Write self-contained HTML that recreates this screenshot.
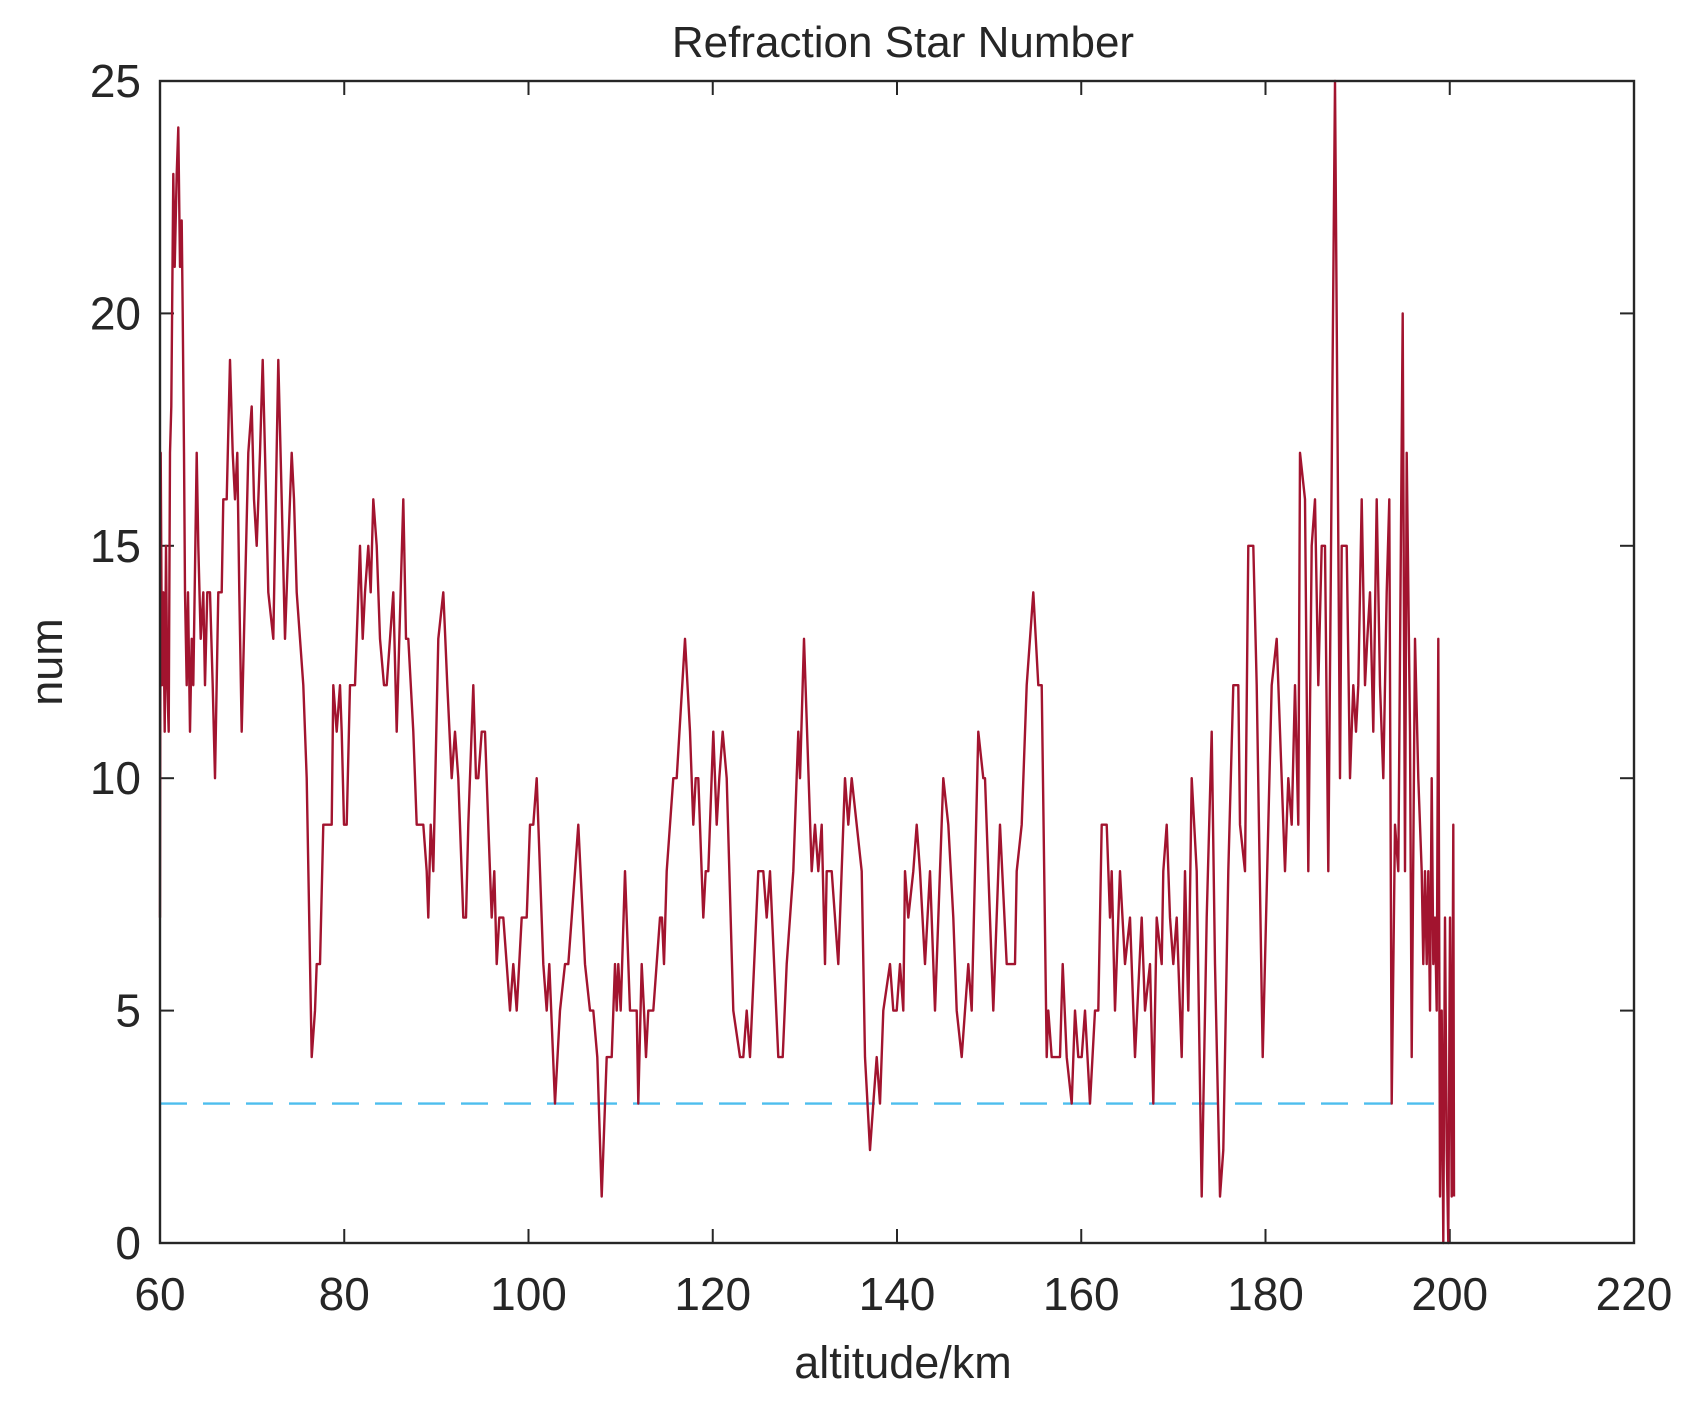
<!DOCTYPE html>
<html><head><meta charset="utf-8">
<style>
html,body{margin:0;padding:0;background:#fff;}
svg{display:block;}
text{font-family:"Liberation Sans",sans-serif;fill:#262626;}
</style></head>
<body>
<svg id="s" width="1698" height="1410" viewBox="0 0 1698 1410" xmlns="http://www.w3.org/2000/svg">
<rect width="1698" height="1410" fill="#fff"/>
<text x="903" y="57" font-size="44" text-anchor="middle">Refraction Star Number</text>
<g id="ticks" stroke="#262626" stroke-width="2"></g>
<g id="labels" font-size="46"></g>
<line x1="160" y1="1103.6" x2="1442" y2="1103.6" stroke="#4DBEEE" stroke-width="2.4" stroke-dasharray="27,16"/>
<path id="p" fill="none" stroke="#A2142F" stroke-width="2.4" stroke-linejoin="round"/>
<rect x="160" y="81" width="1474" height="1162" fill="none" stroke="#262626" stroke-width="2.4"/>
<text x="903" y="1378" font-size="45" text-anchor="middle">altitude/km</text>
<text transform="translate(62,662) rotate(-90)" font-size="45" text-anchor="middle">num</text>
</svg>
<script>
var X0=160,X1=1634,Y0=1243,Y1=81;
function yv(v){return Y0-v*(Y0-Y1)/25;}
var ns="http://www.w3.org/2000/svg";
var tg=document.getElementById('ticks'),lg=document.getElementById('labels');
function el(t,a,p,txt){var e=document.createElementNS(ns,t);for(var k in a)e.setAttribute(k,a[k]);if(txt!==undefined)e.textContent=txt;p.appendChild(e);}
for(var a=60;a<=220;a+=20){var x=X0+(a-60)*(X1-X0)/160;
 el('line',{x1:x,y1:Y0,x2:x,y2:Y0-14},tg);el('line',{x1:x,y1:Y1,x2:x,y2:Y1+14},tg);
 el('text',{x:x,y:1310,'text-anchor':'middle'},lg,a);}
for(var v=0;v<=25;v+=5){var y=yv(v);
 el('line',{x1:X0,y1:y,x2:X0+14,y2:y},tg);el('line',{x1:X1,y1:y,x2:X1-14,y2:y},tg);
 el('text',{x:141,y:y+16,'text-anchor':'end'},lg,v);}
var pts=[];
var s1=[[0,1125],[2,500],[6,810],[10,680],[14,870],[18,625],[22,810],[26,870],[30,500],[34,440],[40,125],[44,250],[50,125],[55,60],[60,250],[65,190],[68,310],[72,500],[75,690],[80,810],[84,690],[90,870],[95,750],[100,810],[110,500],[115,625],[122,750],[130,690],[135,810],[142,690],[150,690],[158,810],[165,935],[175,690],[185,690],[190,565],[200,565],[210,375],[218,500],[225,565],[232,500],[238,690],[245,870],[255,690],[265,500],[275,440],[282,565],[290,620],[300,500],[308,375],[315,500],[325,690],[340,750],[355,375],[365,565],[375,750],[385,625],[395,500],[402,565],[410,690],[420,750],[430,810],[440,935],[455,1310],[465,1250],[470,1185],[480,1185],[490,1000],[505,1000],[515,1000],[520,810],[530,870],[540,810],[545,870],[552,1000],[560,1000],[570,810],[585,810],[600,625],[608,750],[615,690],[625,625],[632,690],[640,565],[650,625],[660,750],[672,810],[680,810],[690,750],[700,690],[710,870],[718,750],[730,565],[738,750],[745,750],[760,870],[770,1000],[790,1000],[800,1060],[805,1120],[812,1000],[820,1060],[835,750],[850,690],[862,810],[875,935],[885,870],[895,935],[910,1120],[918,1120],[925,1000],[940,810],[948,935],[955,935],[965,870],[975,870],[985,1000],[995,1120],[1003,1060],[1010,1185],[1018,1120],[1030,1120],[1040,1185],[1050,1250],[1060,1185],[1070,1250],[1085,1120],[1100,1120],[1110,1000],[1120,1000],[1130,935],[1140,1060],[1150,1185],[1160,1250],[1168,1185],[1185,1375],[1200,1250],[1215,1185],[1225,1185],[1235,1120],[1245,1060],[1255,1000]];
s1.forEach(function(p){pts.push([160+p[0]/3,25-p[1]/62.5]);});
function v5(yz){return (643-yz/2.4)/46.48;}
var s2=[[75,880],[90,990],[100,990],[112,1100],[125,1440],[140,1105],[155,1105],[165,880],[170,990],[175,880],[182,990],[195,655],[210,990],[230,990],[235,1218],[245,880],[252,990],[258,1105],[265,990],[280,990],[300,770],[306,770],[312,880],[320,655],[340,430],[350,430],[375,95],[390,320],[400,540],[407,430],[415,430],[430,770],[437,655],[445,655],[460,320],[470,540],[478,430],[488,320],[500,430],[520,990],[540,1105],[550,1105],[560,1000],[570,1105],[595,655],[610,655],[620,770],[630,655],[655,1105],[668,1105],[680,880],[700,655],[715,320],[720,430],[732,95],[755,655],[765,545],[775,655],[785,545],[795,880],[800,655],[815,655],[835,880],[855,430],[865,540],[875,430],[905,655],[915,1105],[930,1330],[940,1218],[950,1105],[960,1218],[970,990],[990,880],[1000,990],[1010,990],[1020,880],[1030,990],[1035,655],[1045,770],[1060,655],[1070,545],[1080,655],[1095,880],[1110,655],[1125,990],[1150,430],[1165,545],[1180,770],[1190,990],[1205,1105],[1225,880],[1235,990],[1255,320],[1270,430],[1275,430],[1285,655],[1300,990],[1320,545],[1340,880],[1365,880],[1370,655],[1385,545],[1400,200],[1420,0],[1435,200]];
s2.forEach(function(p){pts.push([560+p[0]/3,v5(p[1])]);});
function v6(yz){return (683-yz/2.26)/46.48;}
var s3=[[35,282],[50,1124],[55,1018],[65,1124],[90,1124],[98,913],[110,1124],[125,1229],[135,1018],[145,1124],[155,1124],[165,1018],[180,1229],[195,1018],[205,1018],[215,598],[230,598],[240,808],[245,703],[255,1018],[270,703],[285,913],[300,808],[315,1124],[335,808],[345,1018],[360,913],[370,1229],[380,808],[395,913],[400,703],[410,598],[420,808],[430,913],[440,808],[455,1124],[465,703],[475,1018],[485,493],[500,703],[515,1438],[530,808],[545,388],[555,913],[570,1438],[580,1333],[595,703],[610,282],[625,282]];
s3.forEach(function(p){pts.push([1030+p[0]/3,v6(p[1])]);});
var s4=[[0,9],[15,8],[25,15],[40,15],[50,12],[68,4],[85,9],[95,12],[110,13],[120,11],[135,8],[145,10],[155,9],[165,12],[175,9],[180,17],[195,16],[205,8],[215,15],[225,16],[235,12],[245,15],[255,15],[265,8],[285,25],[300,10],[305,15],[320,15],[330,10],[340,12],[348,11],[355,12],[365,16],[375,12],[382,13],[390,14],[400,11],[410,16],[420,12],[430,10],[440,14],[448,16],[455,3],[465,9],[475,8],[488,20],[495,8],[500,17],[510,11],[515,4],[525,13],[535,10],[545,8],[550,6],[555,8],[560,6],[565,8],[570,5],[575,10],[580,6],[585,7],[590,5],[595,13],[600,1],[605,5],[610,0],[615,7],[620,2],[625,0],[630,7],[635,1],[640,9],[642,1]];
s4.forEach(function(p){pts.push([1240+p[0]/3,p[1]]);});
var d='';
pts.forEach(function(p,i){var v=Math.max(0,Math.min(25,Math.round(p[1])));d+=(i?'L':'M')+p[0].toFixed(1)+','+yv(v).toFixed(1);});
document.getElementById('p').setAttribute('d',d);
</script>
</body></html>
